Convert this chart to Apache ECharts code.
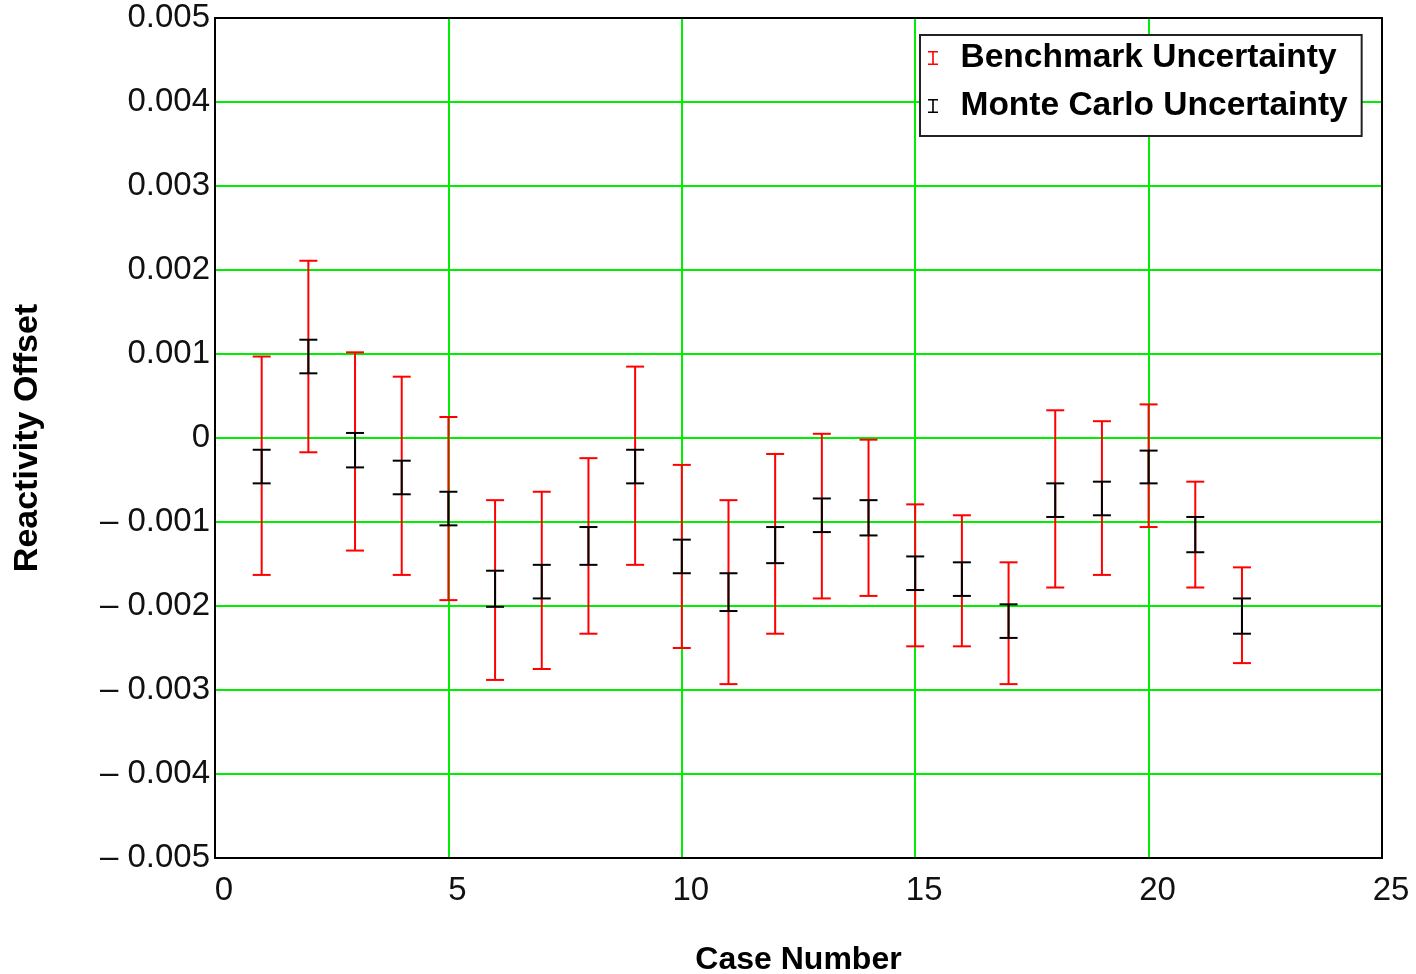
<!DOCTYPE html>
<html>
<head>
<meta charset="utf-8">
<script src="https://cdn.jsdelivr.net/npm/echarts@6/dist/echarts.min.js"></script>
<style>
html,body{margin:0;padding:0;background:#fff;}
#main{width:1416px;height:974px;}
</style>
</head>
<body>
<div id="main"></div>
<script>
// Data
const cases = [1,2,3,4,5,6,7,8,9,10,11,12,13,14,15,16,17,18,19,20,21,22];
const benchHigh = [0.00097, 0.00211, 0.00102, 0.00073, 0.00025, -0.00074, -0.00064, -0.00024, 0.00085, -0.00032, -0.00074, -0.00019, 0.00005, -0.00002, -0.00079, -0.00092, -0.00148, 0.00033, 0.00020, 0.00040, -0.00052, -0.00154];
const benchLow  = [-0.00163, -0.00017, -0.00134, -0.00163, -0.00193, -0.00288, -0.00275, -0.00233, -0.00151, -0.00250, -0.00293, -0.00233, -0.00191, -0.00188, -0.00248, -0.00248, -0.00293, -0.00178, -0.00163, -0.00106, -0.00178, -0.00268];
const mcHigh = [-0.00014, 0.00117, 0.00006, -0.00027, -0.00064, -0.00158, -0.00151, -0.00106, -0.00014, -0.00121, -0.00161, -0.00106, -0.00072, -0.00074, -0.00141, -0.00148, -0.00198, -0.00054, -0.00052, -0.00015, -0.00094, -0.00191];
const mcLow  = [-0.00054, 0.00077, -0.00035, -0.00067, -0.00104, -0.00201, -0.00191, -0.00151, -0.00054, -0.00161, -0.00206, -0.00149, -0.00112, -0.00116, -0.00181, -0.00188, -0.00238, -0.00094, -0.00092, -0.00054, -0.00136, -0.00233];
const seriesNames = ['Benchmark Uncertainty', 'Monte Carlo Uncertainty'];
const xTicks = {min: 0, max: 25, interval: 5};
const yTicks = {min: -0.005, max: 0.005, interval: 0.001};

const benchData = cases.map((c, i) => [c, benchLow[i], benchHigh[i]]);
const mcData = cases.map((c, i) => [c, mcLow[i], mcHigh[i]]);

function makeRender(color) {
  return function (params, api) {
    const x = api.value(0);
    const top = api.coord([x, api.value(2)]);
    const bot = api.coord([x, api.value(1)]);
    const hw = 9;
    const style = {stroke: color, lineWidth: 2};
    return {
      type: 'group',
      children: [
        {type: 'line', shape: {x1: top[0], y1: top[1], x2: bot[0], y2: bot[1]}, style: style},
        {type: 'line', shape: {x1: top[0] - hw, y1: top[1], x2: top[0] + hw, y2: top[1]}, style: style},
        {type: 'line', shape: {x1: bot[0] - hw, y1: bot[1], x2: bot[0] + hw, y2: bot[1]}, style: style}
      ]
    };
  };
}

const ibeam = 'path://M0,0h10v1.6h-4.2v10.8h4.2v1.6h-10v-1.6h4.2v-10.8h-4.2z';
const FONT = '"Liberation Sans", Arial, sans-serif';

const chart = echarts.init(document.getElementById('main'), null, {renderer: 'canvas'});
chart.setOption({
  animation: false,
  backgroundColor: '#fff',
  grid: {left: 215, right: 34, top: 18, bottom: 116, show: true, borderColor: '#000', borderWidth: 2,
         backgroundColor: 'transparent', z: 3, containLabel: false, outerBoundsMode: 'none'},
  legend: {
    orient: 'vertical',
    left: 920, top: 35,
    padding: [3, 14, 10, 8],
    itemGap: 8,
    itemWidth: 11, itemHeight: 14,
    backgroundColor: '#fff',
    borderColor: '#222', borderWidth: 2,
    textStyle: {fontFamily: FONT, fontWeight: 'bold', fontSize: 33.5, color: '#000', lineHeight: 40, padding: [0, 0, 0, 17]},
    data: [
      {name: seriesNames[0], icon: ibeam, itemStyle: {color: '#ff0000'}},
      {name: seriesNames[1], icon: ibeam, itemStyle: {color: '#000'}}
    ]
  },
  xAxis: {
    type: 'value',
    min: xTicks.min, max: xTicks.max, interval: xTicks.interval,
    name: 'Case Number',
    nameLocation: 'middle',
    nameGap: 86,
    nameTextStyle: {fontFamily: FONT, fontWeight: 'bold', fontSize: 32, color: '#000'},
    axisLine: {show: true, onZero: false, lineStyle: {color: '#000', width: 2}},
    axisTick: {show: false},
    axisLabel: {fontFamily: FONT, fontSize: 33, color: '#111', margin: 16, padding: [0, 0, 0, 18]},
    splitLine: {show: true, showMinLine: false, showMaxLine: false, lineStyle: {color: '#00ee00', width: 2}}
  },
  yAxis: {
    type: 'value',
    min: yTicks.min, max: yTicks.max, interval: yTicks.interval,
    name: 'Reactivity Offset',
    nameLocation: 'middle',
    nameGap: 170,
    nameTextStyle: {fontFamily: FONT, fontWeight: 'bold', fontSize: 34, color: '#000'},
    axisLine: {show: true, onZero: false, lineStyle: {color: '#000', width: 2}},
    axisTick: {show: false},
    axisLabel: {
      fontFamily: FONT, fontSize: 33, color: '#111', margin: 5, padding: [4, 0, 0, 0],
      formatter: function (v) {
        const r = Math.round(v * 1e6) / 1e6;
        if (r === 0) return '0';
        return r < 0 ? '\u2013 ' + Math.abs(r).toFixed(3) : r.toFixed(3);
      }
    },
    splitLine: {show: true, showMinLine: false, showMaxLine: false, lineStyle: {color: '#00ee00', width: 2}}
  },
  series: [
    {name: seriesNames[0], type: 'custom', renderItem: makeRender('#ff0000'), data: benchData,
     encode: {x: 0, y: [1, 2]}, itemStyle: {color: '#ff0000'}, z: 2},
    {name: seriesNames[1], type: 'custom', renderItem: makeRender('#000000'), data: mcData,
     encode: {x: 0, y: [1, 2]}, itemStyle: {color: '#000'}, z: 3}
  ]
});
</script>
</body>
</html>
